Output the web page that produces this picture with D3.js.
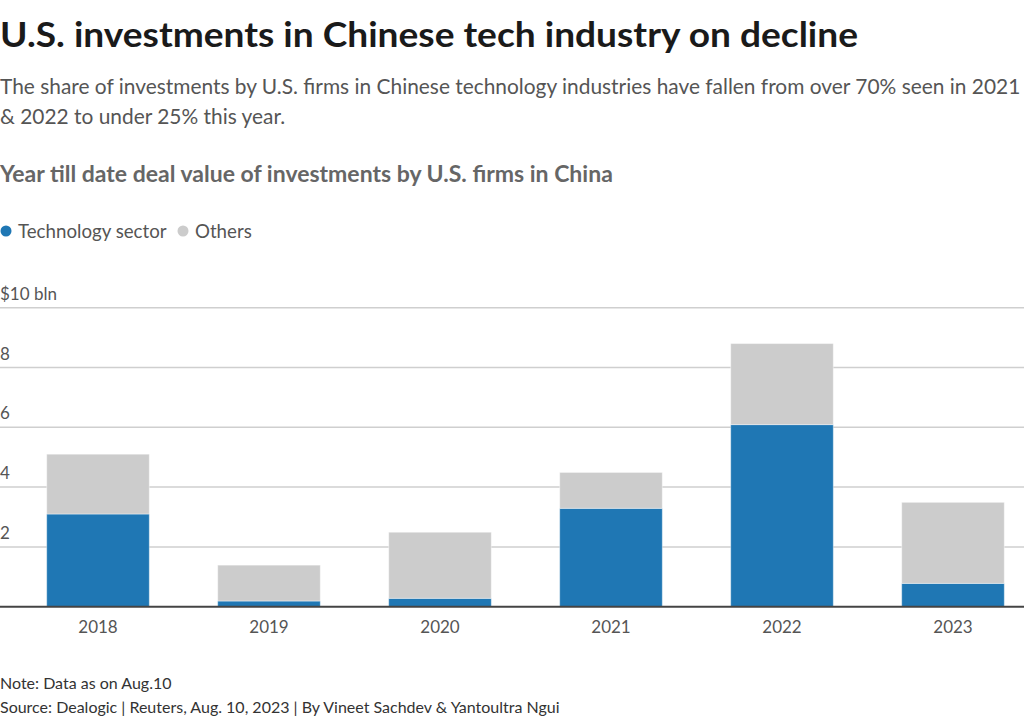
<!DOCTYPE html>
<html>
<head>
<meta charset="utf-8">
<script src="https://cdn.jsdelivr.net/npm/d3@7"></script>
<style>
  body { margin: 0; background: #fff; }
  svg { font-family: Lato, "Open Sans", sans-serif; }
</style>
</head>
<body>
<svg id="chart" width="1024" height="721"></svg>
<script>
// ===========================//
// DATA
// ===========================//

var years = ["2018", "2019", "2020", "2021", "2022", "2023"]
var techValues = [3.1, 0.19, 0.28, 3.29, 6.09, 0.78]
var otherValues = [2.0, 1.2, 2.21, 1.2, 2.71, 2.71]
var yTicks = [0, 2, 4, 6, 8, 10]
var seriesNames = ["Technology sector", "Others"]

var colorSeries = d3.scaleOrdinal()
  .domain(seriesNames)
  .range(["#1f77b4", "#cccccc"])

var svg = d3.select("#chart")

// ===========================//
// HEADER TEXT
// ===========================//

svg.append("text")
  .attr("x", 0).attr("y", 47)
  .attr("font-size", 35).attr("font-weight", 700).attr("fill", "#1a1a1a")
  .attr("textLength", 858).attr("lengthAdjust", "spacingAndGlyphs")
  .text("U.S. investments in Chinese tech industry on decline")

var subLines = [
  "The share of investments by U.S. firms in Chinese technology industries have fallen from over 70% seen in 2021",
  "& 2022 to under 25% this year."
]
svg.selectAll(".sub")
  .data(subLines)
  .enter().append("text")
    .attr("class", "sub")
    .attr("x", 0)
    .attr("y", function(d, i){ return 94 + i * 30 })
    .attr("font-size", 20.9).attr("fill", "#555")
    .text(function(d){ return d })

svg.append("text")
  .attr("x", 0).attr("y", 182)
  .attr("font-size", 23).attr("font-weight", 700).attr("fill", "#666")
  .text("Year till date deal value of investments by U.S. firms in China")

// legend
var legendX = [6, 183]
var legend = svg.selectAll(".legend")
  .data(seriesNames)
  .enter().append("g")
    .attr("class", "legend")
    .attr("transform", function(d, i){ return "translate(" + legendX[i] + ",231)" })
legend.append("circle").attr("r", 5.5).attr("fill", function(d){ return colorSeries(d) })
legend.append("text")
  .attr("x", 12).attr("dy", "0.35em")
  .attr("font-size", 18.7).attr("fill", "#555")
  .text(function(d){ return d })

// ===========================//
// SCALES
// ===========================//

var x = d3.scaleBand()
  .domain(years)
  .range([12.5, 1038.5])
  .paddingInner(0.4)
  .paddingOuter(0.2)

var y = d3.scaleLinear()
  .domain([0, 10])
  .range([606.7, 307.7])

// gridlines + y labels
var grid = svg.append("g")
grid.selectAll("line")
  .data(yTicks.filter(function(d){ return d > 0 }))
  .enter().append("line")
    .attr("x1", 0).attr("x2", 1024)
    .attr("y1", function(d){ return y(d) }).attr("y2", function(d){ return y(d) })
    .attr("stroke", "#cfcfcf").attr("stroke-width", 1.5)

grid.selectAll("text")
  .data(yTicks.filter(function(d){ return d > 0 }))
  .enter().append("text")
    .attr("x", 0)
    .attr("y", function(d){ return y(d) - 8 })
    .attr("font-size", 17).attr("fill", "#555")
    .text(function(d){ return d == 10 ? "$10 bln" : d })

// ===========================//
// BARS
// ===========================//

var stackData = years.map(function(yr, i){
  return { year: yr, "Technology sector": techValues[i], "Others": otherValues[i] }
})
var stack = d3.stack().keys(seriesNames)(stackData)

svg.append("g")
  .selectAll("g")
  .data(stack)
  .enter().append("g")
    .attr("fill", function(d){ return colorSeries(d.key) })
  .selectAll("rect")
  .data(function(d){ return d })
  .enter().append("rect")
    .attr("x", function(d){ return x(d.data.year) })
    .attr("width", x.bandwidth())
    .attr("y", function(d){ return y(d[1]) })
    .attr("height", function(d){ return y(d[0]) - y(d[1]) })
    .attr("stroke", "#ffffff").attr("stroke-opacity", 0.4).attr("stroke-width", 1)

// baseline
svg.append("line")
  .attr("x1", 0).attr("x2", 1024)
  .attr("y1", y(0)).attr("y2", y(0))
  .attr("stroke", "#444").attr("stroke-width", 2)

// x axis labels
var xAxis = svg.append("g")
  .attr("transform", "translate(0," + y(0) + ")")
  .call(d3.axisBottom(x).tickSize(0).tickPadding(14))
xAxis.select(".domain").remove()
xAxis.selectAll("text")
  .attr("font-family", "Lato, 'Open Sans', sans-serif")
  .attr("font-size", 17).attr("fill", "#555")

// ===========================//
// FOOTER
// ===========================//

svg.append("text")
  .attr("x", 0).attr("y", 689)
  .attr("font-size", 16).attr("fill", "#333")
  .text("Note: Data as on Aug.10")
svg.append("text")
  .attr("x", 0).attr("y", 713)
  .attr("font-size", 16).attr("fill", "#333")
  .text("Source: Dealogic | Reuters, Aug. 10, 2023 | By Vineet Sachdev & Yantoultra Ngui")
</script>
</body>
</html>
